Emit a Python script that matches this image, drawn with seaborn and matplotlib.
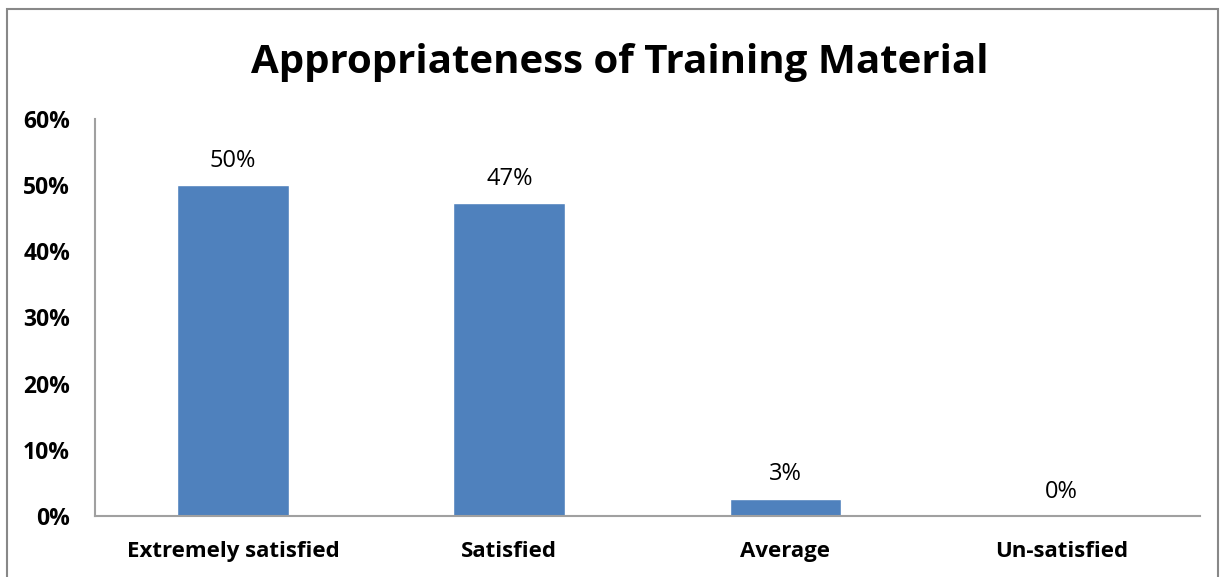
import matplotlib.pyplot as plt
import seaborn as sns
import pandas as pd
from matplotlib.patches import Rectangle
from matplotlib.ticker import FuncFormatter

categories = ["Extremely satisfied", "Satisfied", "Average", "Un-satisfied"]
values = [50.0, 47.3, 2.6, 0.0]
value_labels = ["50%", "47%", "3%", "0%"]
yticks = [0, 10, 20, 30, 40, 50, 60]

sns.set_theme(style="white")
plt.rcParams["font.family"] = ["Open Sans", "DejaVu Sans"]
plt.rcParams["text.color"] = "black"
plt.rcParams["xtick.color"] = "black"
plt.rcParams["ytick.color"] = "black"

df = pd.DataFrame({"category": categories, "value": values})

fig = plt.figure(figsize=(12.23, 5.77), dpi=100)
ax = fig.add_axes([0.0777, 0.1057, 0.9033, 0.6881])

sns.barplot(data=df, x="category", y="value", color="#4F81BD", saturation=1,
            width=0.405, ax=ax)

ax.set_ylim(0, 60)
ax.set_yticks(yticks)
ax.yaxis.set_major_formatter(FuncFormatter(lambda v, _: f"{v:.0f}%"))
ax.tick_params(axis="y", length=0, pad=18, labelsize=16.5)
ax.tick_params(axis="x", length=0, pad=18, labelsize=16)
for lbl in ax.get_xticklabels() + ax.get_yticklabels():
    lbl.set_fontweight("bold")
ax.set_xlabel("")
ax.set_ylabel("")

for s in ["top", "right"]:
    ax.spines[s].set_visible(False)
for s in ["left", "bottom"]:
    ax.spines[s].set_color("#A0A0A0")
    ax.spines[s].set_linewidth(1.5)

for i, (v, t) in enumerate(zip(values, value_labels)):
    ax.annotate(t, (i, v), xytext=(0, 9), textcoords="offset points",
                ha="center", va="bottom", fontsize=17, color="black")

fig.text(0.507, 0.892, "Appropriateness of Training Material", ha="center",
         va="center", fontsize=29, fontweight="bold", color="black")

fig.patches.append(Rectangle((0.006, -0.02), 0.99, 1.005, transform=fig.transFigure,
                             fill=False, edgecolor="#888888", linewidth=1.5))

fig.savefig("out.png", dpi=100)
